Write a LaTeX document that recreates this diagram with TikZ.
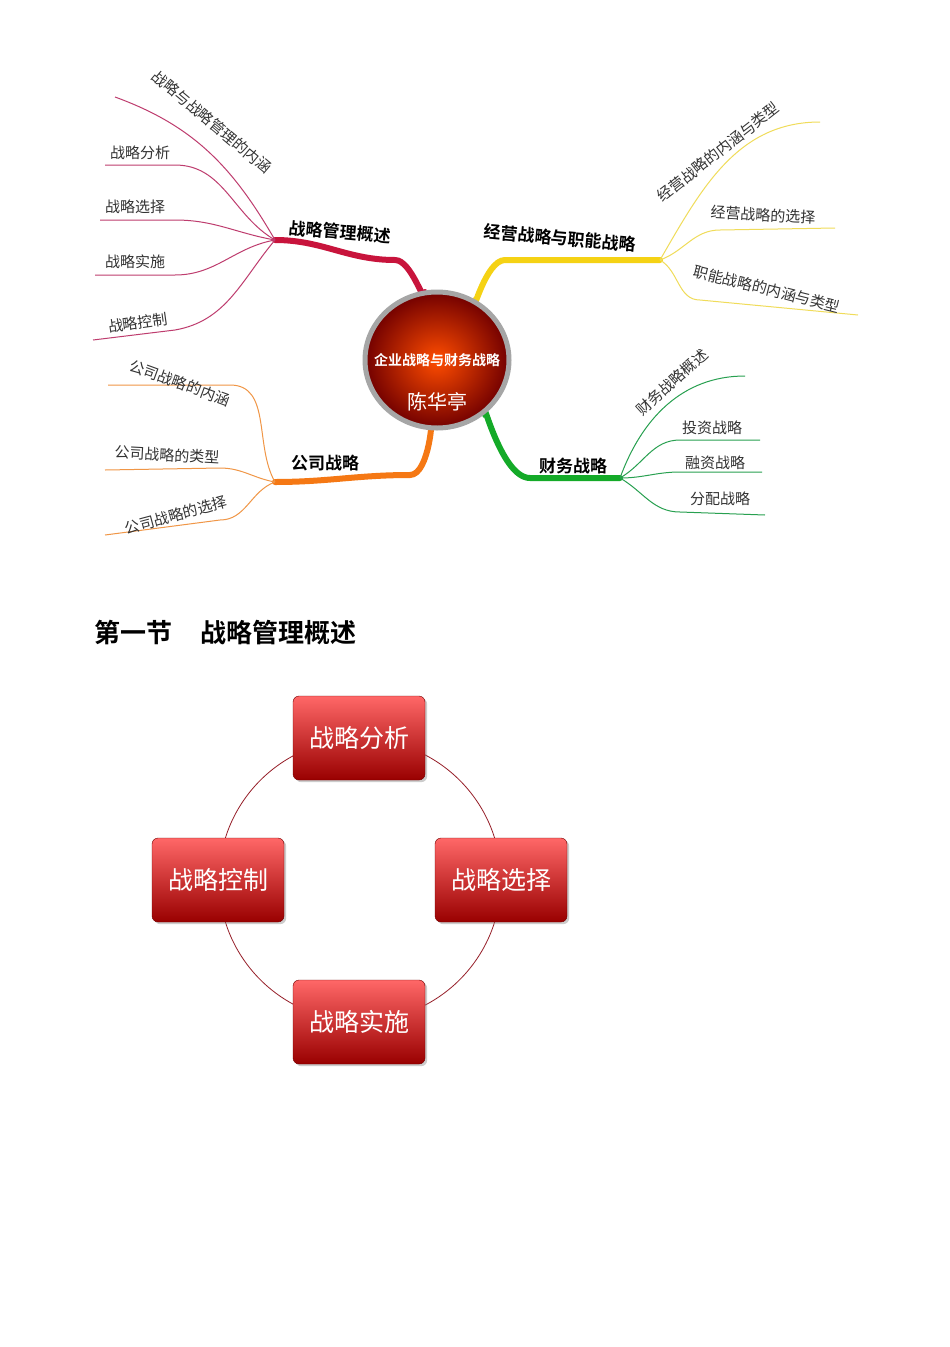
\documentclass[tikz,border=0pt]{standalone}
\usepackage{fontspec}
\newfontfamily\cjk{Noto Sans CJK SC}
\newfontfamily\cjkb{Noto Sans CJK SC Bold}
\usetikzlibrary{shadows,shapes.geometric}
\begin{document}
\begin{tikzpicture}[x=1pt,y=-1pt,
  leaf/.style={font=\cjk\fontsize{15}{15}\selectfont, text=black!80},
  blab/.style={font=\cjkb\fontsize{17}{17}\selectfont},
  br/.style={line width=6pt, line cap=round},
  lf/.style={line width=1pt},
  cbox/.style={rounded corners=6pt, minimum width=132pt, minimum height=84pt, top color=red!55!white!90!red, bottom color=red!60!black, draw=red!45!black, font=\cjk\fontsize{25}{25}\selectfont, text=white, drop shadow={opacity=0.4}}]
\useasboundingbox (0,0) rectangle (950,1347);
\fill[white] (0,0) rectangle (950,1347);
% hubs
\coordinate (h1) at (275,240);
\coordinate (h2) at (660,260);
\coordinate (h3) at (275,482);
\coordinate (h4) at (620,478);
% main branches
\draw[br, draw={rgb,255:red,200;green,20;blue,60}] (425,292) to[out=-90,in=0] (395,260) to[out=180,in=0] (h1);
\draw[br, draw={rgb,255:red,245;green,210;blue,20}] (475,300) to[out=-100,in=180] (505,260) to[out=0,in=180] (h2);
\draw[br, draw={rgb,255:red,245;green,120;blue,20}] (430,428) to[out=80,in=0] (410,475) to[out=180,in=0] (h3);
\draw[br, draw={rgb,255:red,20;green,170;blue,40}] (485,415) to[out=100,in=180] (530,478) to[out=0,in=180] (h4);
\node[blab, rotate=-5] (b1) at (340,232) {战略管理概述};
\node[blab, rotate=-5] (b2) at (560,238) {经营战略与职能战略};
\node[blab] (b3) at (325,463) {公司战略};
\node[blab] (b4) at (573,466) {财务战略};
% center
\node[ellipse, draw=gray!70, line width=5pt, minimum width=144pt, minimum height=136pt, inner color=orange!60!red, outer color=red!45!black] (c) at (437,360) {};
\node[font=\cjkb\fontsize{14}{14}\selectfont, text=white] (ct) at (437,360) {企业战略与财务战略};
\node[font=\cjk\fontsize{20}{20}\selectfont, text=white] (cn) at (437,402) {陈华亭};
% red leaves
\begin{scope}[lf, draw={rgb,255:red,190;green,60;blue,110}]
\draw (h1) to[out=120,in=-20] (115,97);
\draw (h1) to[out=150,in=0] (175,165) -- (105,165);
\draw (h1) to[out=170,in=0] (175,220) -- (100,220);
\draw (h1) to[out=190,in=0] (175,275) -- (95,275);
\draw (h1) to[out=230,in=10] (175,330) -- (93,340);
\end{scope}
\node[leaf, rotate=-40] (l11) at (212,122) {战略与战略管理的内涵};
\node[leaf] (l12) at (140,153) {战略分析};
\node[leaf] (l13) at (135,207) {战略选择};
\node[leaf] (l14) at (135,262) {战略实施};
\node[leaf, rotate=8] (l15) at (138,323) {战略控制};
% yellow leaves
\begin{scope}[lf, draw={rgb,255:red,240;green,220;blue,90}]
\draw (h2) to[out=60,in=180] (820,122);
\draw (h2) to[out=20,in=180] (720,230) -- (835,228);
\draw (h2) to[out=-30,in=180] (700,300) -- (858,315);
\end{scope}
\node[leaf, rotate=38] (l21) at (718,152) {经营战略的内涵与类型};
\node[leaf, rotate=-3] (l22) at (763,215) {经营战略的选择};
\node[leaf, rotate=-14] (l23) at (767,289) {职能战略的内涵与类型};
% orange leaves
\begin{scope}[lf, draw={rgb,255:red,240;green,150;blue,70}]
\draw (h3) to[out=120,in=0] (230,385) -- (108,385);
\draw (h3) to[out=170,in=0] (220,468) -- (105,470);
\draw (h3) to[out=200,in=0] (220,520) -- (105,535);
\end{scope}
\node[leaf, rotate=-20] (l31) at (180,383) {公司战略的内涵};
\node[leaf, rotate=-3] (l32) at (167,455) {公司战略的类型};
\node[leaf, rotate=15] (l33) at (176,515) {公司战略的选择};
% green leaves
\begin{scope}[lf, draw={rgb,255:red,40;green,160;blue,80}]
\draw (h4) to[out=70,in=180] (745,376);
\draw (h4) to[out=30,in=180] (680,440) -- (760,440);
\draw (h4) to[out=0,in=180] (680,472) -- (762,472);
\draw (h4) to[out=-30,in=180] (680,512) -- (765,515);
\end{scope}
\node[leaf, rotate=42] (l41) at (672,382) {财务战略概述};
\node[leaf] (l42) at (712,428) {投资战略};
\node[leaf] (l43) at (715,463) {融资战略};
\node[leaf] (l44) at (720,499) {分配战略};
% title
\node[font=\cjkb\fontsize{26}{26}\selectfont, anchor=west] (t) at (91,633) {第一节\hspace{28pt}战略管理概述};
% cycle
\draw[draw={rgb,255:red,150;green,30;blue,40}, line width=0.8pt] (360,880) circle[radius=141];
\node[cbox] (s1) at (359,738) {战略分析};
\node[cbox] (s2) at (501,880) {战略选择};
\node[cbox] (s3) at (218,880) {战略控制};
\node[cbox] (s4) at (359,1022) {战略实施};
\end{tikzpicture}
\end{document}
